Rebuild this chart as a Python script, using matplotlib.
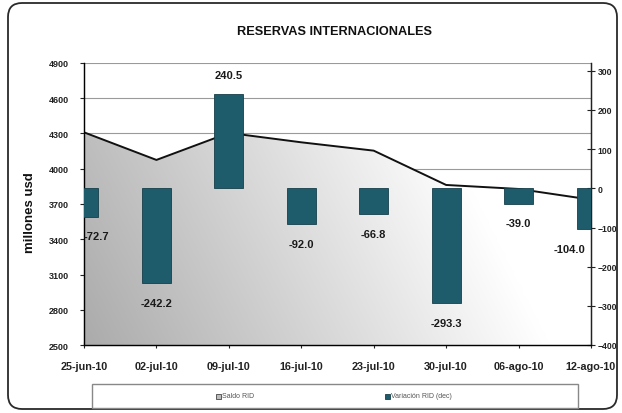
import matplotlib
matplotlib.use('Agg')
import matplotlib.pyplot as plt
import numpy as np
from matplotlib.patches import FancyBboxPatch, Polygon, Rectangle

plt.rcParams['font.family'] = ['Liberation Sans Narrow', 'Liberation Sans', 'DejaVu Sans']

# ---- data ----
dates = ['25-jun-10', '02-jul-10', '09-jul-10', '16-jul-10',
         '23-jul-10', '30-jul-10', '06-ago-10', '12-ago-10']
saldo_rid = [4310, 4075, 4305, 4225, 4154, 3862, 3828, 3737]
variacion = [-72.7, -242.2, 240.5, -92.0, -66.8, -293.3, -39.0, -104.0]
left_ticks = [2500, 2800, 3100, 3400, 3700, 4000, 4300, 4600, 4900]
right_ticks = [-400, -300, -200, -100, 0, 100, 200, 300]
title = 'RESERVAS INTERNACIONALES'
ylabel = 'millones usd'
legend_labels = ['Saldo RID', 'Variación RID (dec)']

W, H = 622, 414
fig = plt.figure(figsize=(W / 100, H / 100), dpi=100)
fig.patch.set_facecolor('white')

# outer rounded frame
r = 14
frame = FancyBboxPatch((8 / W, 4 / H), 609 / W, 406 / H,
                       boxstyle=f'round,pad=0,rounding_size={r / W}',
                       mutation_aspect=W / H,
                       transform=fig.transFigure, fill=False,
                       ec='#2a2a2a', lw=1.3)
fig.patches.append(frame)

ax = fig.add_axes([84 / W, 1 - 346 / H, (591 - 84) / W, (346 - 64) / H])
x = np.arange(len(dates))
ax.set_xlim(0, len(dates) - 1)
ax.set_ylim(left_ticks[0], left_ticks[-1])

# gradient area under the line
verts = [(x[0], left_ticks[0])] + list(zip(x, saldo_rid)) + [(x[-1], left_ticks[0])]
poly = Polygon(verts, closed=True, facecolor='none', edgecolor='none',
               transform=ax.transData, zorder=1)
ax.add_patch(poly)
gx = np.linspace(0, 1, 300)
gy = np.linspace(0, 1, 100)
GX, GY = np.meshgrid(gx, gy)
light = np.clip(0.67 + 0.36 * GX + 0.10 * GY, 0, 1)
img = np.dstack([light, light, light])
im = ax.imshow(img, extent=[x[0], x[-1], left_ticks[0], left_ticks[-1]],
               origin='lower', aspect='auto', zorder=1, interpolation='bilinear')
im.set_clip_path(poly)
ax.set_xlim(0, len(dates) - 1)
ax.set_ylim(left_ticks[0], left_ticks[-1])

ax.plot(x, saldo_rid, color='#111111', lw=1.4, zorder=3)

ax.set_yticks(left_ticks)
ax.yaxis.grid(True, color='#9a9a9a', lw=0.8, zorder=0)
ax.set_axisbelow(True)
ax.set_xticks(x)
ax.set_xticklabels(dates)
ax.tick_params(axis='x', direction='inout', length=5, pad=9, labelsize=7.8,
               colors='#222222')
ax.tick_params(axis='y', direction='out', length=3, pad=8, labelsize=6.5,
               colors='#222222')
for lab in ax.get_xticklabels() + ax.get_yticklabels():
    lab.set_fontweight('bold')
ax.spines['top'].set_visible(False)
for s in ['left', 'bottom', 'right']:
    ax.spines[s].set_color('#222222')
    ax.spines[s].set_linewidth(1.0)

# bars on secondary axis
ax2 = ax.twinx()
ax2.bar(x, variacion, width=0.40, color='#1f5c6b', edgecolor='#163f4a',
        lw=0.6, zorder=3)
ax2.set_ylim(-400, 320)
ax2.set_yticks(right_ticks)
ax2.set_xlim(0, len(dates) - 1)
ax2.tick_params(axis='y', direction='inout', length=6, pad=2, labelsize=6.2,
                colors='#222222')
for lab in ax2.get_yticklabels():
    lab.set_fontweight('bold')
ax2.spines['top'].set_visible(False)
ax2.spines['right'].set_color('#222222')

n = len(variacion)
for i, v in enumerate(variacion):
    dy = 14 if v > 0 else -14
    ha = 'center'
    dx = 0
    if i == 0:
        ha, dx = 'left', 0
    elif i == n - 1:
        ha, dx = 'right', -4
    ax2.annotate(f'{v:.1f}', xy=(i, v), xytext=(dx, dy), textcoords='offset points',
                 ha=ha, va='center', fontsize=8, fontweight='bold',
                 color='#1a1a1a', annotation_clip=False)

# title and y label
fig.text(335 / W, 1 - 32 / H, title, ha='center', va='center',
         fontsize=9.2, fontweight='bold', color='#111111')
fig.text(30 / W, 1 - 213 / H, ylabel, ha='center', va='center', rotation=90,
         fontsize=9.5, fontweight='bold', color='#111111')

# legend box
fig.patches.append(Rectangle((92 / W, 1 - 409 / H), (578 - 92) / W, 24 / H,
                             transform=fig.transFigure, fill=False,
                             ec='#888888', lw=1.0))
ly = 1 - 397 / H
fig.patches.append(Rectangle((216 / W, ly - 2.5 / H), 5 / W, 5 / H,
                             transform=fig.transFigure, fc='#bdbdbd',
                             ec='#444444', lw=0.6))
fig.text(222 / W, ly, legend_labels[0], ha='left', va='center',
         fontsize=5, color='#555555')
fig.patches.append(Rectangle((385 / W, ly - 2.5 / H), 5 / W, 5 / H,
                             transform=fig.transFigure, fc='#1f5c6b',
                             ec='#163f4a', lw=0.6))
fig.text(391 / W, ly, legend_labels[1], ha='left', va='center',
         fontsize=5, color='#555555')

fig.savefig('out.png', dpi=100)
